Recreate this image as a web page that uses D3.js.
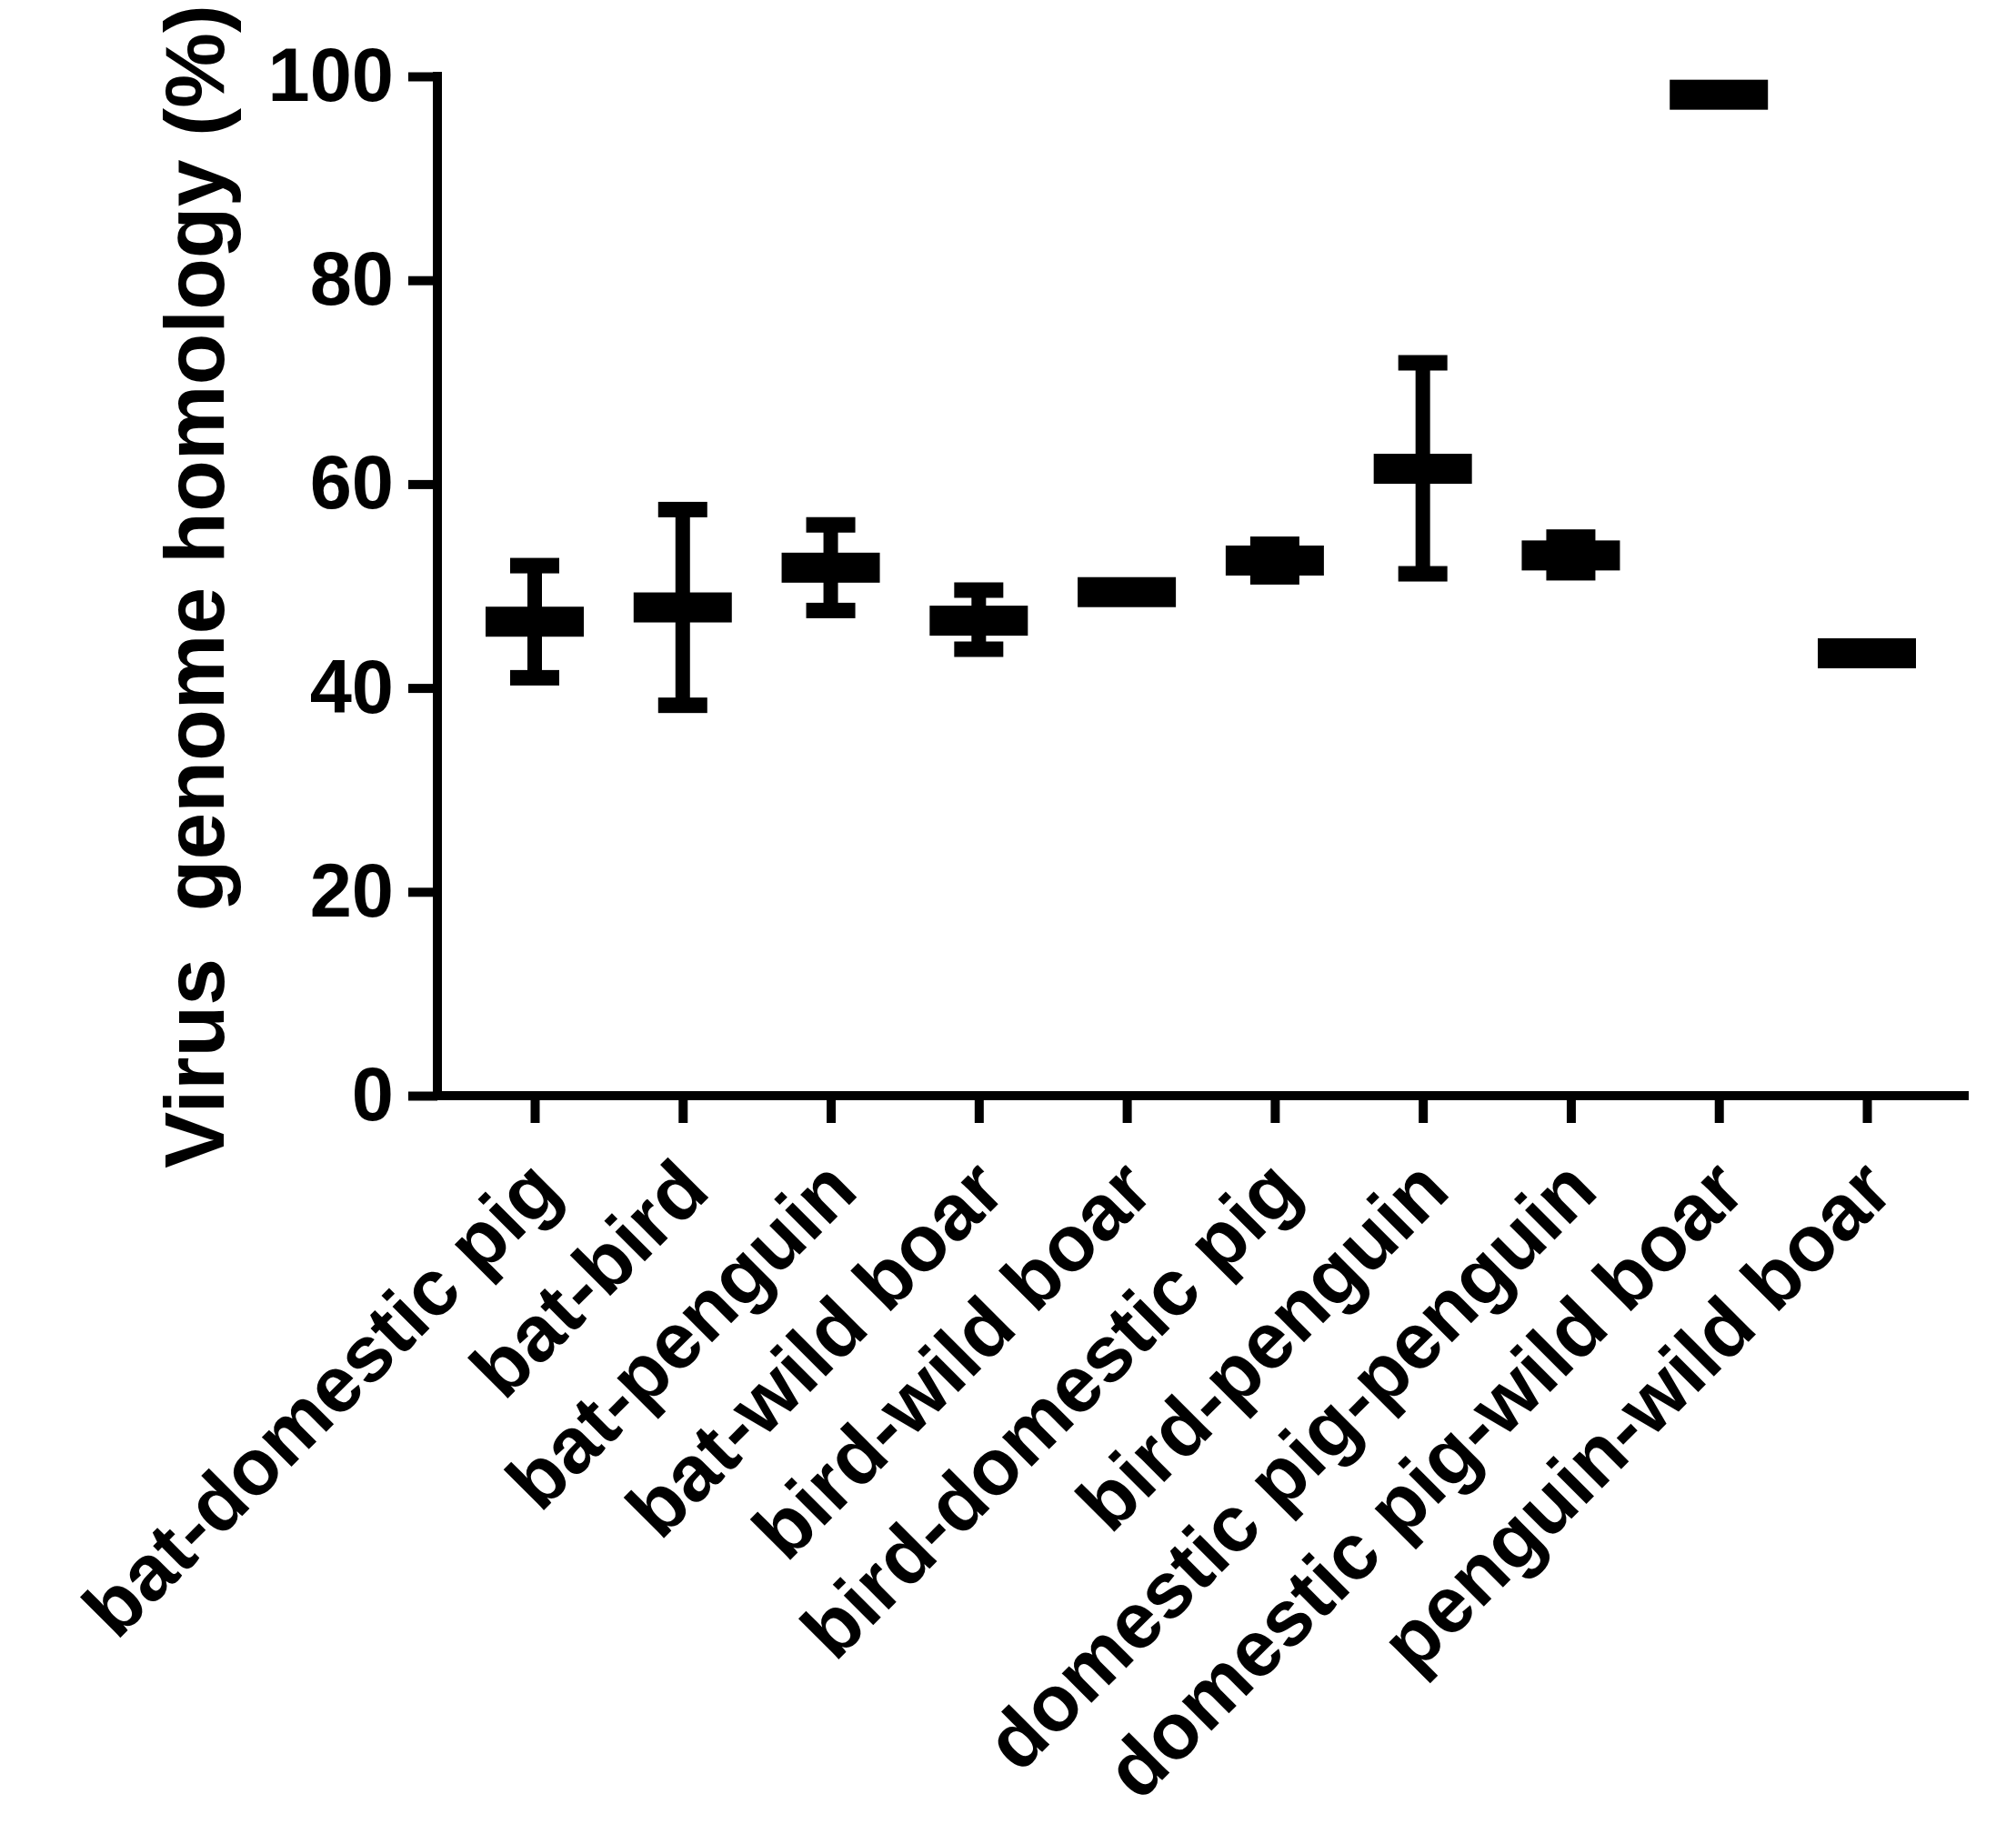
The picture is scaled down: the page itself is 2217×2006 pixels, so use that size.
<!DOCTYPE html>
<html>
<head>
<meta charset="utf-8">
<script src="https://cdn.jsdelivr.net/npm/d3@7"></script>
<style>
  body { margin: 0; background: #fff; }
  text { font-family: "Liberation Sans", Arial, Helvetica, sans-serif; font-weight: bold; fill: #000; }
</style>
</head>
<body>
<svg></svg>
<script>
const categories = ["bat-domestic pig", "bat-bird", "bat-penguin", "bat-wild boar", "bird-wild boar",
    "bird-domestic pig", "bird-penguin", "domestic pig-penguin", "domestic pig-wild boar", "penguin-wild boar"];
const means = [46.5, 47.9, 51.8, 46.6, 49.4, 52.5, 61.5, 53.0, 98.2, 43.4];
const upper = [52.0, 57.5, 56.0, 49.6, 49.4, 54.1, 71.9, 54.8, 98.2, 43.4];
const lower = [41.0, 38.3, 47.6, 43.8, 49.4, 50.9, 51.2, 51.3, 98.2, 43.4];
const yTicks = [0, 20, 40, 60, 80, 100];

const width = 2217;
const height = 2006;
const axisX = 481;
const axisY = 1205;
const axisRight = 2165;

const svg = d3.select('svg')
    .attr('width', width)
    .attr('height', height);

const data = categories.map((c, i) => ({ cat: c, mean: means[i], hi: upper[i], lo: lower[i] }));

const x = d3.scalePoint()
    .domain(categories)
    .range([588, 2053]);

const y = d3.scaleLinear()
    .domain([0, 100])
    .range([axisY, 84]);

// y axis
const yAxis = d3.axisLeft(y)
    .tickValues(yTicks)
    .tickSize(32)
    .tickSizeOuter(0)
    .tickPadding(16);

const yAxisG = svg.append('g')
    .attr('transform', `translate(${axisX},0)`)
    .call(yAxis);
yAxisG.select('.domain').remove();
yAxisG.selectAll('.tick line').attr('stroke', '#000').attr('stroke-width', 10);
yAxisG.selectAll('.tick text')
    .attr('font-size', 83)
    .attr('fill', '#000');

svg.append('line')
    .attr('x1', axisX).attr('x2', axisX)
    .attr('y1', y(100) - 5).attr('y2', axisY + 5)
    .attr('stroke', '#000').attr('stroke-width', 10);

// x axis
const xAxis = d3.axisBottom(x)
    .tickSize(30)
    .tickSizeOuter(0);

const xAxisG = svg.append('g')
    .attr('transform', `translate(0,${axisY})`)
    .call(xAxis);
xAxisG.select('.domain').remove();
xAxisG.selectAll('.tick line').attr('stroke', '#000').attr('stroke-width', 10);
xAxisG.selectAll('.tick text')
    .attr('font-size', 87)
    .attr('fill', '#000')
    .attr('text-anchor', 'end')
    .attr('x', 0).attr('y', 0).attr('dy', 0)
    .attr('transform', 'translate(32,108) rotate(-45)');

svg.append('line')
    .attr('x1', axisX - 5).attr('x2', axisRight)
    .attr('y1', axisY).attr('y2', axisY)
    .attr('stroke', '#000').attr('stroke-width', 10);

// y axis title
svg.append('text')
    .attr('transform', `translate(246,645) rotate(-90)`)
    .attr('text-anchor', 'middle')
    .attr('font-size', 93)
    .style('white-space', 'pre')
    .text('Virus  genome homology (%)');

// error bars and means
const barW = 108, barH = 33, capW = 54, capH = 17, stemW = 16;
const groups = svg.append('g').selectAll('g').data(data).enter().append('g');

groups.append('rect')
    .attr('x', d => x(d.cat) - stemW / 2)
    .attr('y', d => y(d.hi))
    .attr('width', stemW)
    .attr('height', d => y(d.lo) - y(d.hi))
    .attr('fill', '#000');

groups.selectAll('.cap')
    .data(d => [d.hi, d.lo].map(v => ({ cat: d.cat, v })))
    .enter().append('rect')
    .attr('class', 'cap')
    .attr('x', d => x(d.cat) - capW / 2)
    .attr('y', d => y(d.v) - capH / 2)
    .attr('width', capW)
    .attr('height', capH)
    .attr('fill', '#000');

groups.append('rect')
    .attr('x', d => x(d.cat) - barW / 2)
    .attr('y', d => y(d.mean) - barH / 2)
    .attr('width', barW)
    .attr('height', barH)
    .attr('fill', '#000');
</script>
</body>
</html>
